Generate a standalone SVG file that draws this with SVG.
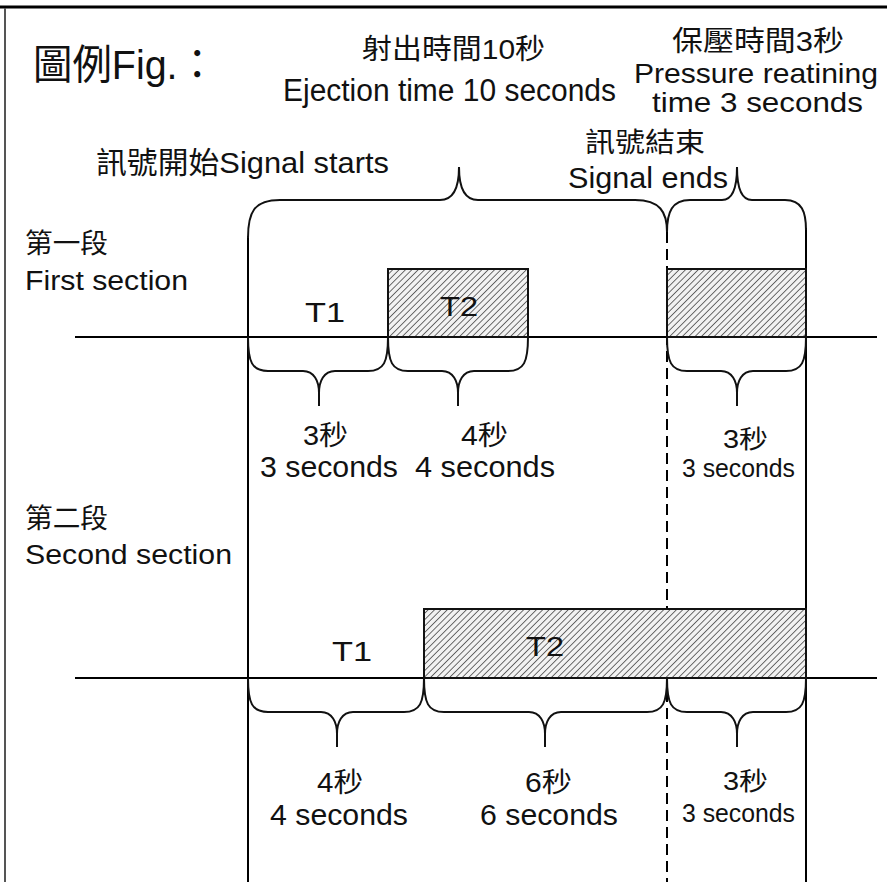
<svg xmlns="http://www.w3.org/2000/svg" width="887" height="882" viewBox="0 0 887 882">
<defs>
<pattern id="hatch" width="4.5" height="4.5" patternUnits="userSpaceOnUse" patternTransform="rotate(45)">
<rect width="4.5" height="4.5" fill="#f2f2f2"/>
<line x1="0" y1="0" x2="0" y2="4.5" stroke="#222" stroke-width="1.3"/>
</pattern>
</defs>
<style>
.t{font-family:"Liberation Sans","Noto Sans CJK TC",sans-serif;fill:#111}
.ln{stroke:#000;stroke-width:2;fill:none}
.br{stroke:#111;stroke-width:2;fill:none}
.dash{stroke:#000;stroke-width:2;stroke-dasharray:11 6;fill:none}
.box{fill:url(#hatch);stroke:#111;stroke-width:2}
</style>
<rect width="887" height="882" fill="#fff"/>
<g id="frame">
<line x1="0" y1="7" x2="887" y2="7" stroke="#000" stroke-width="3"/>
<line x1="5" y1="8" x2="5" y2="882" stroke="#555" stroke-width="2"/>
</g>
<g id="titles">
<text class="t" x="33" y="79" font-size="41" textLength="184" lengthAdjust="spacingAndGlyphs">圖例Fig.：</text>
<text class="t" x="362" y="59" font-size="28" textLength="183" lengthAdjust="spacingAndGlyphs">射出時間10秒</text>
<text class="t" x="283" y="101" font-size="31" textLength="333" lengthAdjust="spacingAndGlyphs">Ejection time 10 seconds</text>
<text class="t" x="672" y="51" font-size="28" textLength="172" lengthAdjust="spacingAndGlyphs">保壓時間3秒</text>
<text class="t" x="634" y="83" font-size="28" textLength="244" lengthAdjust="spacingAndGlyphs">Pressure reatining</text>
<text class="t" x="652" y="112" font-size="28" textLength="211" lengthAdjust="spacingAndGlyphs">time 3 seconds</text>
<text class="t" x="96" y="173" font-size="30" textLength="293" lengthAdjust="spacingAndGlyphs">訊號開始Signal starts</text>
<text class="t" x="585" y="152" font-size="27" textLength="120" lengthAdjust="spacingAndGlyphs">訊號結束</text>
<text class="t" x="568" y="188" font-size="30" textLength="160" lengthAdjust="spacingAndGlyphs">Signal ends</text>
</g>
<g id="section1-label">
<text class="t" x="25" y="253" font-size="27" textLength="83" lengthAdjust="spacingAndGlyphs">第一段</text>
<text class="t" x="25" y="290" font-size="27" textLength="163" lengthAdjust="spacingAndGlyphs">First section</text>
</g>
<g id="section2-label">
<text class="t" x="25" y="528" font-size="27" textLength="83" lengthAdjust="spacingAndGlyphs">第二段</text>
<text class="t" x="25" y="564" font-size="27" textLength="207" lengthAdjust="spacingAndGlyphs">Second section</text>
</g>
<g id="connectors">
<line class="ln" x1="248" y1="236" x2="248" y2="882"/>
<line class="ln" x1="806" y1="228" x2="806" y2="882"/>
<line class="dash" x1="667" y1="232" x2="667" y2="882"/>
<line class="ln" x1="75" y1="337" x2="877" y2="337"/>
<line class="ln" x1="75" y1="678" x2="877" y2="678"/>
</g>
<g id="section1-bars">
<rect class="box" x="388" y="269" width="140" height="68"/>
<rect class="box" x="667" y="269" width="139" height="68"/>
<text class="t" x="325" y="322" font-size="28" text-anchor="middle" textLength="40" lengthAdjust="spacingAndGlyphs">T1</text>
<text class="t" x="459" y="316" font-size="28" text-anchor="middle" textLength="38" lengthAdjust="spacingAndGlyphs">T2</text>
</g>
<g id="section2-bars">
<rect class="box" x="424" y="609" width="382" height="69"/>
<text class="t" x="352" y="661" font-size="28" text-anchor="middle" textLength="40" lengthAdjust="spacingAndGlyphs">T1</text>
<text class="t" x="545" y="656" font-size="28" text-anchor="middle" textLength="38" lengthAdjust="spacingAndGlyphs">T2</text>
</g>
<g id="top-braces">
<path class="br" d="M248,238 C248,212 254,200 280,200 L440,200 C452,200 459,190 459,167 C459,190 466,200 478,200 L635,200 C660,200 667,212 667,232"/>
<path class="br" d="M667,232 C667,212 672,200 690,200 L722,200 C731,200 737,190 737,167 C737,190 743,200 752,200 L785,200 C802,200 806,212 806,230"/>
</g>
<g id="section1-braces">
<path class="br" d="M248,337 C248,362 252,371 268,371 L303,371 C314,371 319,381 319,393 L319,406 M388,337 C388,362 384,371 368,371 L335,371 C324,371 319,381 319,393"/>
<path class="br" d="M388,337 C388,362 392,371 408,371 L442,371 C453,371 458,381 458,393 L458,406 M528,337 C528,362 524,371 508,371 L474,371 C463,371 458,381 458,393"/>
<path class="br" d="M667,337 C667,362 671,371 687,371 L721,371 C732,371 737,381 737,393 L737,406 M806,337 C806,362 802,371 786,371 L753,371 C742,371 737,381 737,393"/>
<text class="t" x="303" y="445" font-size="27" textLength="45" lengthAdjust="spacingAndGlyphs">3秒</text>
<text class="t" x="260" y="477" font-size="29" textLength="138" lengthAdjust="spacingAndGlyphs">3 seconds</text>
<text class="t" x="461" y="445" font-size="27" textLength="47" lengthAdjust="spacingAndGlyphs">4秒</text>
<text class="t" x="415" y="477" font-size="29" textLength="140" lengthAdjust="spacingAndGlyphs">4 seconds</text>
<text class="t" x="723" y="448" font-size="25" textLength="45" lengthAdjust="spacingAndGlyphs">3秒</text>
<text class="t" x="682" y="477" font-size="25" textLength="113" lengthAdjust="spacingAndGlyphs">3 seconds</text>
</g>
<g id="section2-braces">
<path class="br" d="M248,678 C248,703 252,712 268,712 L321,712 C332,712 337,722 337,734 L337,747 M424,678 C424,703 420,712 404,712 L353,712 C342,712 337,722 337,734"/>
<path class="br" d="M424,678 C424,703 428,712 444,712 L529,712 C540,712 545,722 545,734 L545,747 M667,678 C667,703 663,712 647,712 L561,712 C550,712 545,722 545,734"/>
<path class="br" d="M667,678 C667,703 671,712 687,712 L721,712 C732,712 737,722 737,734 L737,747 M806,678 C806,703 802,712 786,712 L753,712 C742,712 737,722 737,734"/>
<text class="t" x="317" y="792" font-size="27" textLength="46" lengthAdjust="spacingAndGlyphs">4秒</text>
<text class="t" x="270" y="825" font-size="29" textLength="138" lengthAdjust="spacingAndGlyphs">4 seconds</text>
<text class="t" x="525" y="792" font-size="27" textLength="47" lengthAdjust="spacingAndGlyphs">6秒</text>
<text class="t" x="480" y="825" font-size="29" textLength="138" lengthAdjust="spacingAndGlyphs">6 seconds</text>
<text class="t" x="723" y="790" font-size="25" textLength="45" lengthAdjust="spacingAndGlyphs">3秒</text>
<text class="t" x="682" y="822" font-size="25" textLength="113" lengthAdjust="spacingAndGlyphs">3 seconds</text>
</g>
</svg>
